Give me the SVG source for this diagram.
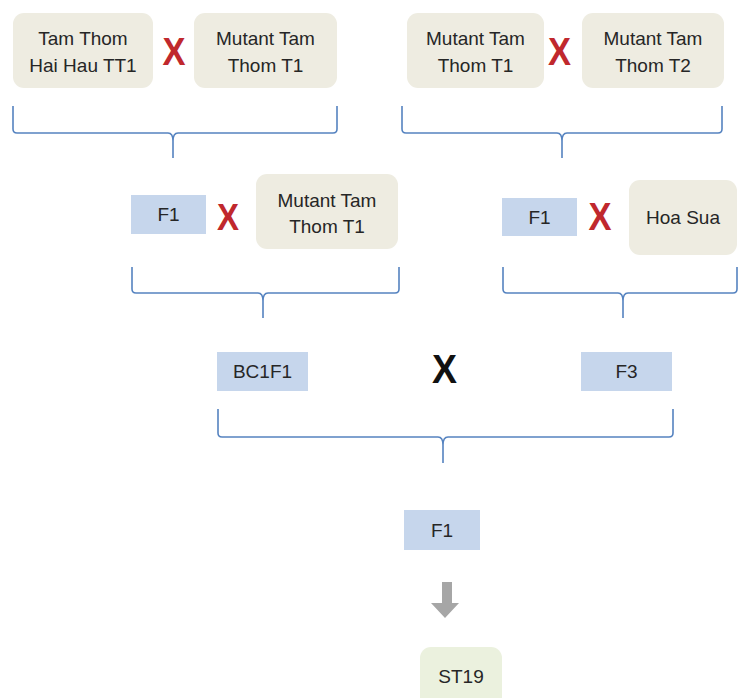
<svg xmlns="http://www.w3.org/2000/svg" width="739" height="698" viewBox="0 0 739 698">
<style>
.tan{fill:#EEECE1}
.blue{fill:#C6D6EC}
.green{fill:#EBF1DE}
.t{font-family:"Liberation Sans",Arial,sans-serif;font-size:19px;fill:#262626;text-anchor:middle}
.x{font-family:"Liberation Sans",Arial,sans-serif;font-size:39px;font-weight:bold;fill:#C0282D;text-anchor:middle}
.xb{font-family:"Liberation Sans",Arial,sans-serif;font-size:41px;font-weight:bold;fill:#111;text-anchor:middle}
.br{fill:none;stroke:#5583C0;stroke-width:1.6;stroke-linejoin:round}
</style>
<rect width="739" height="698" fill="#fff"/>
<g id="n-tamthom"><rect class="tan" x="13" y="13" width="140" height="75" rx="11"/><text class="t" x="83" y="45">Tam Thom</text><text class="t" x="83" y="72">Hai Hau TT1</text></g>
<g id="n-mutant1a"><rect class="tan" x="194" y="13" width="143" height="75" rx="11"/><text class="t" x="265.5" y="45">Mutant Tam</text><text class="t" x="265.5" y="72">Thom T1</text></g>
<g id="n-mutant1b"><rect class="tan" x="407" y="13" width="137" height="75" rx="11"/><text class="t" x="475.5" y="45">Mutant Tam</text><text class="t" x="475.5" y="72">Thom T1</text></g>
<g id="n-mutant2"><rect class="tan" x="582" y="13" width="142" height="75" rx="11"/><text class="t" x="653" y="45">Mutant Tam</text><text class="t" x="653" y="72">Thom T2</text></g>
<g id="n-f1a"><rect class="blue" x="131" y="195" width="75" height="39"/><text class="t" x="168.5" y="221">F1</text></g>
<g id="n-mutant1c"><rect class="tan" x="256" y="174" width="142" height="75" rx="11"/><text class="t" x="327" y="207">Mutant Tam</text><text class="t" x="327" y="233">Thom T1</text></g>
<g id="n-f1b"><rect class="blue" x="502" y="198" width="75" height="38"/><text class="t" x="539.5" y="224">F1</text></g>
<g id="n-hoasua"><rect class="tan" x="629" y="180" width="108" height="75" rx="11"/><text class="t" x="683" y="224">Hoa Sua</text></g>
<g id="n-bc1f1"><rect class="blue" x="217" y="352" width="91" height="39"/><text class="t" x="262.5" y="378">BC1F1</text></g>
<g id="n-f3"><rect class="blue" x="581" y="352" width="91" height="39"/><text class="t" x="626.5" y="378">F3</text></g>
<g id="n-f1c"><rect class="blue" x="404" y="510" width="76" height="40"/><text class="t" x="442" y="537">F1</text></g>
<g id="n-st19"><rect class="green" x="420" y="647" width="82" height="62" rx="11"/><text class="t" x="461" y="683">ST19</text></g>
<g id="crosses">
<text class="x" x="174" y="65" textLength="23" lengthAdjust="spacingAndGlyphs">X</text>
<text class="x" x="559.5" y="65" textLength="23" lengthAdjust="spacingAndGlyphs">X</text>
<text class="x" x="228" y="230" style="font-size:36px" textLength="22" lengthAdjust="spacingAndGlyphs">X</text>
<text class="x" x="600" y="230" textLength="23" lengthAdjust="spacingAndGlyphs">X</text>
<text class="xb" x="444.5" y="383" textLength="25" lengthAdjust="spacingAndGlyphs">X</text>
</g>
<g id="connectors">
<path class="br" d="M13 106 V129 Q13 133 17 133 H168 Q173 133 173 141 V158 M173 141 Q173 133 178 133 H333 Q337 133 337 129 V106"/>
<path class="br" d="M402 106 V129 Q402 133 406 133 H557 Q562 133 562 141 V158 M562 141 Q562 133 567 133 H718 Q722 133 722 129 V106"/>
<path class="br" d="M132 267 V289 Q132 293 136 293 H258 Q263 293 263 301 V318 M263 301 Q263 293 268 293 H395 Q399 293 399 289 V267"/>
<path class="br" d="M503 267 V289 Q503 293 507 293 H618 Q623 293 623 301 V318 M623 301 Q623 293 628 293 H733 Q737 293 737 289 V267"/>
<path class="br" d="M218 409 V433 Q218 437 222 437 H438 Q443 437 443 445 V463 M443 445 Q443 437 448 437 H669 Q673 437 673 433 V409"/>
<path d="M442 582 H452 V603 H459 L445 618 L431 603 H442 Z" fill="#A6A6A6"/>
</g>
</svg>
